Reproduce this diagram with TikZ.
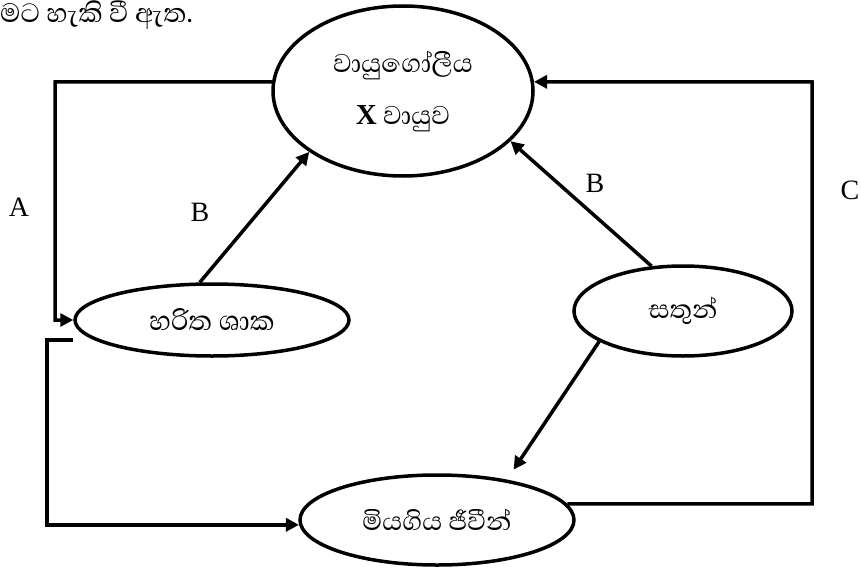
\documentclass[tikz,border=0pt]{standalone}
\usepackage{fontspec}
\setmainfont{Liberation Serif}
\newfontfamily\sinhala[Script=Sinhala]{Abhaya Libre}
\usetikzlibrary{arrows.meta,shapes.geometric}

\begin{document}
\begin{tikzpicture}[x=1pt,y=-1pt,
  pool/.style={ellipse,draw,line width=3.5pt,inner sep=0pt,align=center,
    font=\sinhala\fontsize{33}{52}\selectfont},
  lbl/.style={font=\fontsize{28}{30}\selectfont}]
\useasboundingbox (0,0) rectangle (861,567);
\node[anchor=west,inner sep=0pt,font=\sinhala\fontsize{34}{36}\selectfont] (T) at (0,15) {මට හැකි වී ඇත.};
\node[pool,minimum width=260pt,minimum height=170pt] (V) at (403,91)
  {වායුගෝලීය\\{\rmfamily\bfseries\fontsize{29}{30}\selectfont X} වායුව};
\node[pool,minimum width=274pt,minimum height=72pt,font=\sinhala\fontsize{35}{36}\selectfont] (H) at (212,320) {හරිත ශාක};
\node[pool,minimum width=218pt,minimum height=90pt] (S) at (683,311) {සතුන්};
\node[pool,minimum width=274pt,minimum height=90pt] (M) at (437,520) {මියගිය ජීවීන්};
\node[lbl] (A) at (19,207) {A};
\node[lbl] (B1) at (200,212) {B};
\node[lbl] (B2) at (595,183) {B};
\node[lbl] (C) at (850,190) {C};
\coordinate (TL) at (55,82);
\coordinate (TR) at (812,82);
\coordinate (G) at (73,340);
\coordinate (BL) at (47,340);
\path[-{Triangle[length=13pt,width=13pt]},line width=3.5pt]
(H.108) edge (V.213)
(S.125) edge (V.335)
(S.200) edge[shorten >=12pt] (M.30);
\draw[-{Triangle[length=13pt,width=13pt]},line width=3.5pt] (V.176) -- (TL) |- (H.west);
\draw[-{Triangle[length=13pt,width=13pt]},line width=3.5pt] (G) -- (BL) |- (M.182);
\draw[-{Triangle[length=13pt,width=13pt]},line width=3.5pt] (M.7) -| (TR) -- (V.4);
\end{tikzpicture}
\end{document}
